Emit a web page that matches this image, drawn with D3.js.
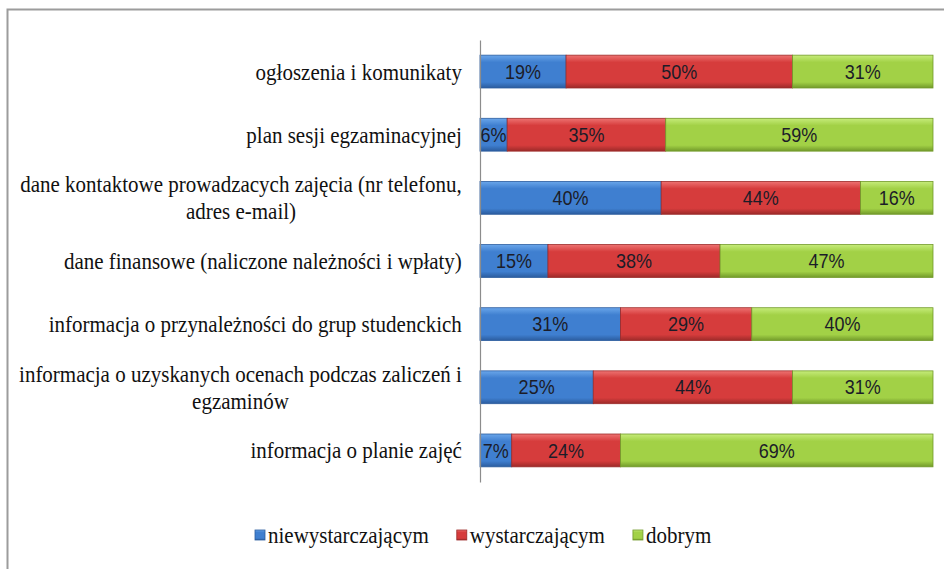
<!DOCTYPE html>
<html>
<head>
<meta charset="utf-8">
<script src="https://cdn.jsdelivr.net/npm/d3@7"></script>
<style>
   html, body { margin: 0; padding: 0; background: #fff; }
   svg { display: block; }
   .serif-text { font-family: "Liberation Serif", "DejaVu Serif", "Times New Roman", serif; font-size: 24px; }
   .bar-label { font-family: "Liberation Sans", Arial, sans-serif; font-size: 20px; }
</style>
</head>
<body>
<svg width="944" height="569"></svg>
<script>
// categories, top to bottom ("\n" marks where the label wraps)
var categories = [
   "ogłoszenia i komunikaty",
   "plan sesji egzaminacyjnej",
   "dane kontaktowe prowadzacych zajęcia (nr telefonu,\nadres e-mail)",
   "dane finansowe (naliczone należności i wpłaty)",
   "informacja o przynależności do grup studenckich",
   "informacja o uzyskanych ocenach podczas zaliczeń i\negzaminów",
   "informacja o planie zajęć"
];

var seriesNames = ["niewystarczającym", "wystarczającym", "dobrym"];

var niewystarczajacym = [19, 6, 40, 15, 31, 25, 7];
var wystarczajacym = [50, 35, 44, 38, 29, 44, 24];
var dobrym = [31, 59, 16, 47, 40, 31, 69];

(function () {
   var svg = d3.select("svg");

   // the original text is a little condensed
   var squeeze = 0.875;

   var colors = {
      "niewystarczającym": {top: "#6aa6ea", mid: "#3f7fd0", bottom: "#2b5c9e"},
      "wystarczającym": {top: "#ee7372", mid: "#d63c3c", bottom: "#9c2a29"},
      "dobrym": {top: "#c6ec7a", mid: "#a2d146", bottom: "#729a2a"}
   };

   var rows = categories.map(function (c, i) {
      return {
         category: c,
         "niewystarczającym": niewystarczajacym[i],
         "wystarczającym": wystarczajacym[i],
         "dobrym": dobrym[i]
      };
   });

   var bounds = {left: 480, right: 933, top: 40, bottom: 482};

   var x = d3.scaleLinear().domain([0, 100]).range([bounds.left, bounds.right]);
   var y = d3.scaleBand()
      .domain(categories)
      .range([bounds.top, bounds.bottom])
      .paddingInner(0.48)
      .paddingOuter(0.24);

   // gradients for the bevelled bars
   var defs = svg.append("defs");
   seriesNames.forEach(function (name, i) {
      var g = defs.append("linearGradient")
         .attr("id", "grad" + i)
         .attr("x1", 0).attr("y1", 0).attr("x2", 0).attr("y2", 1);
      g.append("stop").attr("offset", "0").attr("stop-color", colors[name].top);
      g.append("stop").attr("offset", "0.22").attr("stop-color", colors[name].mid);
      g.append("stop").attr("offset", "0.82").attr("stop-color", colors[name].mid);
      g.append("stop").attr("offset", "1").attr("stop-color", colors[name].bottom);
   });

   // chart frame
   svg.append("rect")
      .attr("x", 7.5).attr("y", 9.5)
      .attr("width", 980).attr("height", 620)
      .attr("fill", "none")
      .attr("stroke", "#9c9c9c")
      .attr("stroke-width", 2);

   var stacked = d3.stack().keys(seriesNames)(rows);

   var serie = svg.selectAll(".serie").data(stacked)
      .enter().append("g")
      .attr("class", "serie");

   serie.selectAll("rect")
      .data(function (d, i) {
         return d.map(function (p) { p.idx = i; p.key = d.key; return p; });
      })
      .enter().append("rect")
      .attr("x", function (d) { return x(d[0]); })
      .attr("y", function (d) { return y(d.data.category); })
      .attr("width", function (d) { return x(d[1]) - x(d[0]); })
      .attr("height", y.bandwidth())
      .attr("fill", function (d) { return "url(#grad" + d.idx + ")"; })
      .attr("stroke", function (d) { return colors[d.key].bottom; })
      .attr("stroke-width", 0.8);

   serie.selectAll("text")
      .data(function (d) { return d; })
      .enter().append("text")
      .attr("class", "bar-label")
      .attr("transform", function (d) {
         var cx = (x(d[0]) + x(d[1])) / 2,
            cy = y(d.data.category) + y.bandwidth() / 2;
         return "translate(" + cx + "," + cy + ") scale(0.9,1)";
      })
      .attr("dy", "0.36em")
      .attr("text-anchor", "middle")
      .attr("fill", "#1c1c28")
      .text(function (d) { return (d[1] - d[0]) + "%"; });

   // vertical axis, no ticks
   var axis = svg.append("g")
      .attr("transform", "translate(" + bounds.left + ",0)")
      .call(d3.axisLeft(y).tickSize(0).tickFormat(""));
   axis.select(".domain").attr("stroke", "#8c8c8c").attr("stroke-width", 1.2);

   // category labels, right aligned block, lines centred
   var labelRight = 462, lineHeight = 27;
   var labels = svg.append("g").attr("fill", "#111");

   categories.forEach(function (c) {
      var lines = c.split("\n");
      var cy = y(c) + y.bandwidth() / 2;
      var t = labels.append("text")
         .attr("class", "serif-text")
         .attr("text-anchor", "middle");
      lines.forEach(function (line, j) {
         t.append("tspan")
            .attr("x", 0)
            .attr("y", (j - (lines.length - 1) / 2) * lineHeight)
            .attr("dy", "0.33em")
            .text(line);
      });
      var widest = 0;
      t.selectAll("tspan").each(function () {
         widest = Math.max(widest, this.getComputedTextLength());
      });
      t.attr("transform", "translate(" + (labelRight - widest * squeeze / 2) + "," + cy + ") scale(" + squeeze + ",1)");
   });

   // legend
   var legend = svg.append("g");
   var lx = 255, ly = 535;
   seriesNames.forEach(function (name, i) {
      var g = legend.append("g").attr("transform", "translate(" + lx + "," + ly + ")");
      g.append("rect")
         .attr("x", 0).attr("y", -5)
         .attr("width", 10).attr("height", 10)
         .attr("fill", "url(#grad" + i + ")")
         .attr("stroke", colors[name].bottom)
         .attr("stroke-width", 0.8);
      var txt = g.append("text")
         .attr("class", "serif-text")
         .attr("transform", "translate(13,0) scale(" + squeeze + ",1)")
         .attr("dy", "0.33em")
         .attr("fill", "#111")
         .text(name);
      lx += 13 + txt.node().getComputedTextLength() * squeeze + 28;
   });
})();
</script>
</body>
</html>
